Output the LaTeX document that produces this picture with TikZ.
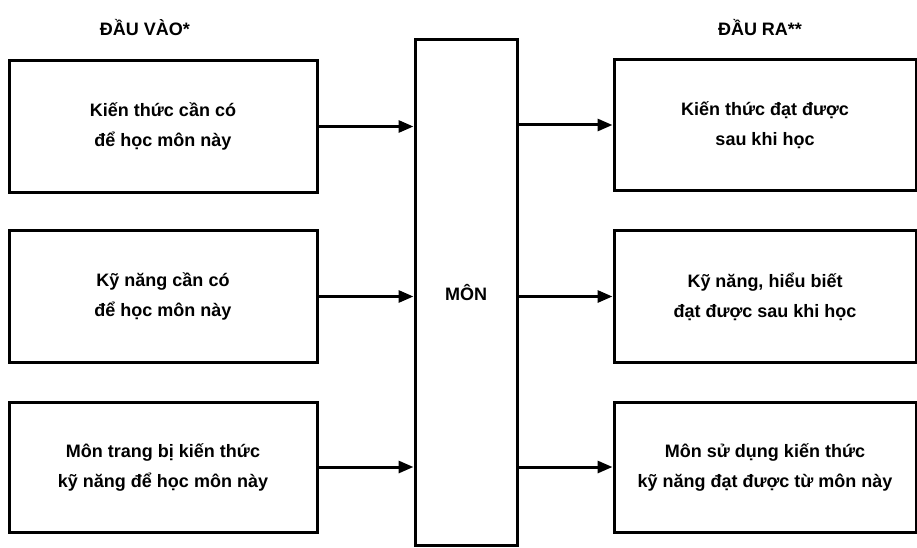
\documentclass[tikz,border=0pt]{standalone}
\usepackage{fontspec}
\setmainfont{Liberation Sans}
\usetikzlibrary{arrows.meta}
\begin{document}
\begin{tikzpicture}[x=1pt,y=-1pt,
  txt/.style={font=\bfseries\fontsize{18}{30}\selectfont, align=center},
  box/.style={draw, line width=3pt, txt, inner sep=0pt},
  link/.style={line width=3pt, -{Triangle[length=15pt,width=12pt]}}]
\useasboundingbox (0,0) rectangle (917,548);

% column headings
\node[txt] (hin)  at (145,28) {ĐẦU VÀO*};
\node[txt] (hout) at (760,28) {ĐẦU RA**};

% central subject block
\node[box, minimum width=102pt, minimum height=505pt] (mon) at (466,292.5) {MÔN};

% inputs
\node[box, minimum width=308pt, minimum height=132pt] (in1) at (163,126.5) {Kiến thức cần có\\để học môn này};
\node[box, minimum width=308pt, minimum height=132pt] (in2) at (163,296.5) {Kỹ năng cần có\\để học môn này};
\node[box, minimum width=308pt, minimum height=130pt] (in3) at (163,467) {Môn trang bị kiến thức\\kỹ năng để học môn này};

% outputs
\node[box, minimum width=302pt, minimum height=130pt] (out1) at (765,125) {Kiến thức đạt được\\sau khi học};
\node[box, minimum width=302pt, minimum height=132pt] (out2) at (765,296.5) {Kỹ năng, hiểu biết\\đạt được sau khi học};
\node[box, minimum width=302pt, minimum height=130pt] (out3) at (765,467) {Môn sử dụng kiến thức\\kỹ năng đạt được từ môn này};

% connectors
\draw[link] (in1.east) -- (in1.east -| mon.west);
\draw[link] (in2.east) -- (in2.east -| mon.west);
\draw[link] (in3.east) -- (in3.east -| mon.west);
\draw[link] (mon.east |- out1.west) -- (out1.west);
\draw[link] (mon.east |- out2.west) -- (out2.west);
\draw[link] (mon.east |- out3.west) -- (out3.west);
\end{tikzpicture}
\end{document}
